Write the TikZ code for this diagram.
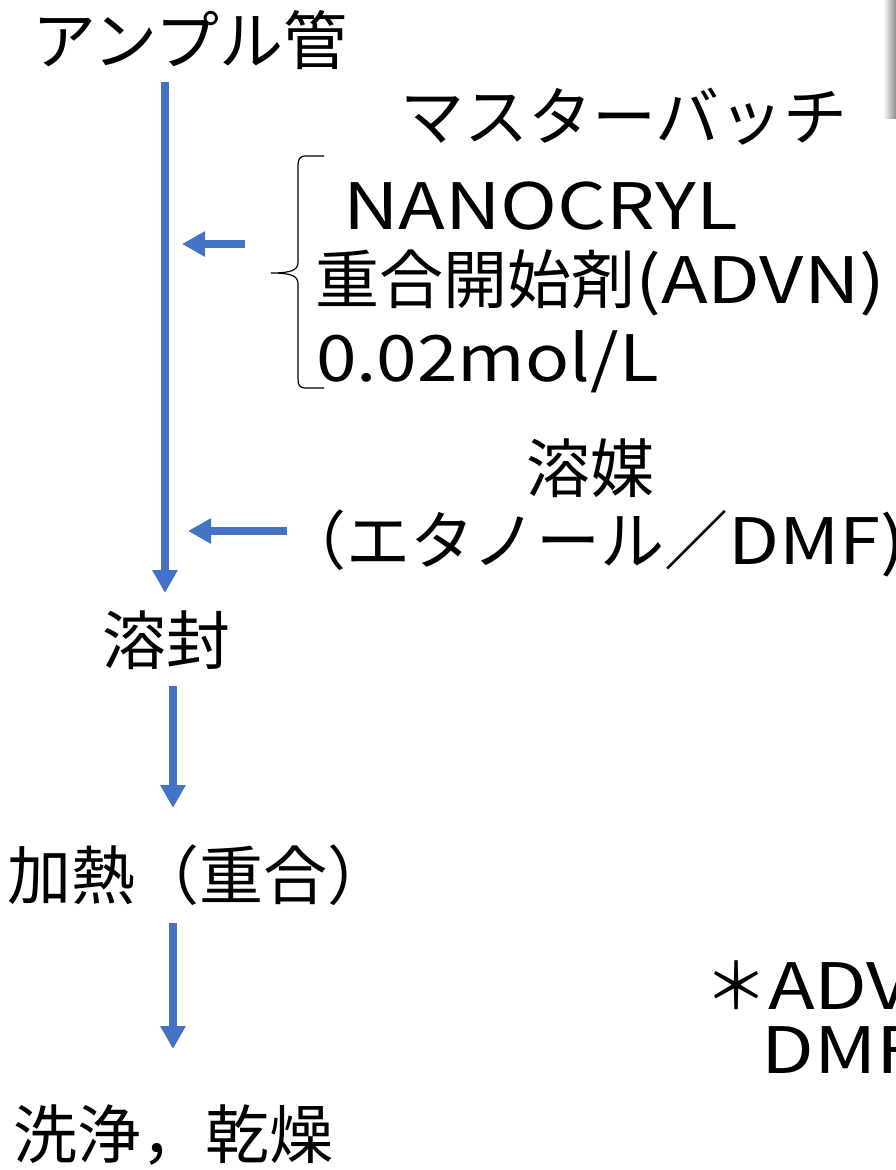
\documentclass[tikz,border=0pt]{standalone}
\usepackage{fontspec}
\newfontfamily\jpf{Noto Sans CJK JP}
\usetikzlibrary{arrows.meta}
\definecolor{arrowblue}{RGB}{68,114,196}
\tikzset{
  txt/.style={inner sep=0pt, anchor=west, font=\jpf\fontsize{64}{74}\selectfont},
  flow/.style={draw=arrowblue, line width=7.5pt, -{Triangle[length=23pt,width=24pt]}},
  bracket/.style={draw=black, line width=1.2pt}
}
\begin{document}
\begin{tikzpicture}[x=1pt,y=-1pt]
\useasboundingbox (0,0) rectangle (896,1170);
\clip (0,0) rectangle (896,1170);
% grey edge at top right
\shade[left color=white, right color=black!45] (883,0) rectangle (896,118);
% texts
\node[txt] (ampoule) at (32,40) {アンプル管};
\node[txt] (master) at (400,117) {マスターバッチ};
\node[txt] (nano) at (343,206) {\scalebox{1.2}[1]{NANOCRYL}};
\node[txt] (init) at (315,283) {重合開始剤\scalebox{1.2}[1]{(ADVN)}};
\node[txt] (conc) at (316,362) {\scalebox{1.14}[1]{0.02mol/L}};
\node[txt] (solv) at (526,468) {溶媒};
\node[txt] (solv2) at (282,543) {（エタノール／\scalebox{1.16}[1]{DMF)}};
\node[txt] (seal) at (102,640) {溶封};
\node[txt] (heat) at (7,875) {加熱（重合）};
\node[txt] (note1) at (704,985) {＊\scalebox{1.2}[1]{ADV}};
\node[txt] (note2) at (761,1050) {\scalebox{1.2}[1]{DMF}};
\node[txt] (wash) at (13,1135) {洗浄，乾燥};
% connector end points
\coordinate (m0) at (165,82);
\coordinate (m1) at (165,593);
\coordinate (b1s) at (245,244);
\coordinate (b1e) at (182,244);
\coordinate (b2s) at (287,531);
\coordinate (b2e) at (188,531);
\coordinate (s0) at (173,686);
\coordinate (s1) at (173,808);
\coordinate (h0) at (173,923);
\coordinate (h1) at (173,1049);
\draw[flow] (m0) -- (m1);
\draw[flow] (b1s) -- (b1e);
\draw[flow] (b2s) -- (b2e);
\draw[flow] (s0) -- (s1);
\draw[flow] (h0) -- (h1);
% brace
\draw[bracket] (324,156) -- (306,156) .. controls (299,156) and (298,160) .. (298,166)
  -- (298,262) .. controls (298,270) and (292,273) .. (271,273)
  .. controls (292,273) and (298,276) .. (298,284)
  -- (298,378) .. controls (298,385) and (299,388) .. (306,388) -- (324,388);
\end{tikzpicture}
\end{document}
